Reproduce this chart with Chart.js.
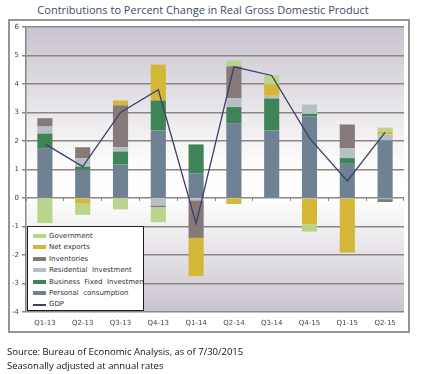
<!DOCTYPE html>
<html>
<head>
<meta charset="utf-8">
<script src="https://cdn.jsdelivr.net/npm/chart.js@4.4.1/dist/chart.umd.min.js"></script>
<style>
  html, body { margin: 0; padding: 0; background: #ffffff; }
  body { width: 422px; height: 374px; position: relative; overflow: hidden; }
  #title { position: absolute; left: 0; top: 2px; width: 406px; text-align: center;
    font-family: "Open Sans", sans-serif; font-size: 11px; color: #3b4a70; white-space: nowrap; }
  #frame { position: absolute; left: 8px; top: 19px; width: 402px; height: 314px; box-sizing: border-box;
    border: 2px solid #959595; }
  #chart { position: absolute; left: 0; top: 0; }
  #legend { position: absolute; left: 27px; top: 226px; width: 117px; height: 85px; box-sizing: border-box;
    border: 1.5px solid #1e1e1e; background: #ffffff; overflow: hidden;
    font-family: "DejaVu Sans", sans-serif; font-size: 7px; color: #333; }
  .item { position: absolute; left: 5px; height: 10px; white-space: nowrap; }
  .sw { position: absolute; left: 0; top: 3px; width: 13px; height: 4px; }
  .ln { position: absolute; left: 0; top: 5px; width: 13px; height: 1.3px; }
  .lt { position: absolute; left: 16px; top: 0; line-height: 10px; }
  .src { position: absolute; left: 7px; font-family: "Open Sans", sans-serif; font-size: 9.5px; color: #111; white-space: nowrap; }
</style>
</head>
<body>
<div id="title">Contributions to Percent Change in Real Gross Domestic Product</div>
<div id="frame"></div>
<canvas id="chart" width="422" height="374"></canvas>
<div id="legend"></div>
<div class="src" style="top:345px">Source: Bureau of Economic Analysis, as of 7/30/2015</div>
<div class="src" style="top:359px">Seasonally adjusted at annual rates</div>
<script>
// ---- data ----
const categories = ['Q1-13','Q2-13','Q3-13','Q4-13','Q1-14','Q2-14','Q3-14','Q4-15','Q1-15','Q2-15'];
const personalConsumption = [1.75, 0.99, 1.18, 2.37, 0.87, 2.62, 2.37, 2.86, 1.20, 2.02];
const businessFixedInvestment = [0.51, 0.11, 0.45, 1.05, 1.01, 0.57, 1.12, 0.09, 0.20, -0.06];
const residentialInvestment = [0.25, 0.30, 0.15, -0.26, -0.08, 0.31, 0.10, 0.33, 0.34, 0.21];
const inventories = [0.29, 0.38, 1.47, -0.06, -1.32, 1.12, 0.00, 0.00, 0.84, -0.08];
const netExports = [0.00, -0.20, 0.17, 1.26, -1.34, -0.21, 0.39, -0.93, -1.90, 0.10];
const government = [-0.88, -0.39, -0.40, -0.53, 0.00, 0.20, 0.32, -0.25, -0.03, 0.14];
const gdp = [1.9, 1.1, 3.0, 3.8, -0.9, 4.6, 4.3, 2.1, 0.6, 2.3];
const yTicks = [-4, -3, -2, -1, 0, 1, 2, 3, 4, 5, 6];

const colors = {
  pc: '#6e8293', bfi: '#3f8456', res: '#b6bec6', inv: '#857a77', nx: '#d4b736', gov: '#b9d48b', gdp: '#3d3f6c'
};

function barSet(label, data, color) {
  return { type: 'bar', label, data, backgroundColor: color, borderWidth: 0, stack: 'c', order: 1,
    categoryPercentage: 1.0, barPercentage: 0.4, xAxisID: 'x', yAxisID: 'y' };
}

const datasets = [
  barSet('Personal consumption', personalConsumption, colors.pc),
  barSet('Business Fixed Investment', businessFixedInvestment, colors.bfi),
  barSet('Residential Investment', residentialInvestment, colors.res),
  barSet('Inventories', inventories, colors.inv),
  barSet('Net exports', netExports, colors.nx),
  barSet('Government', government, colors.gov),
  { type: 'line', label: 'GDP', data: gdp, borderColor: colors.gdp, borderWidth: 1.3, pointRadius: 0,
    tension: 0, fill: false, stack: 'g', order: 0, xAxisID: 'x', yAxisID: 'y' }
];

const bgPlugin = {
  id: 'bg',
  beforeDraw(chart) {
    const { ctx, chartArea: a } = chart;
    const g = ctx.createLinearGradient(0, a.top, 0, a.bottom);
    g.addColorStop(0, '#c9c4cf');
    g.addColorStop(0.48, '#fdfcfb');
    g.addColorStop(0.6, '#ffffff');
    g.addColorStop(1, '#c8c3cd');
    ctx.save();
    ctx.fillStyle = g;
    ctx.fillRect(a.left, a.top, a.right - a.left, a.bottom - a.top);
    ctx.restore();
  }
};

new Chart(document.getElementById('chart'), {
  data: { labels: categories, datasets },
  options: {
    responsive: false, devicePixelRatio: 1, animation: false,
    layout: { padding: { left: 8, right: 18, top: 27, bottom: 46 } },
    plugins: { legend: { display: false }, tooltip: { enabled: false } },
    scales: {
      x: {
        stacked: true, offset: true,
        grid: { display: false, drawTicks: false, tickLength: 0 }, border: { display: false },
        ticks: { font: { family: 'DejaVu Sans', size: 7 }, color: '#444', padding: 7, maxRotation: 0, autoSkip: false },
        afterFit(s) { s.height = 16; }
      },
      x0: {
        type: 'category', position: { y: 0 }, offset: true,
        grid: { drawOnChartArea: false, drawTicks: true, tickLength: 3, color: '#888', lineWidth: 1, offset: true },
        border: { display: false },
        ticks: { display: false }
      },
      y: {
        stacked: true, min: -4, max: 6,
        afterBuildTicks(s) { s.ticks = yTicks.map(v => ({ value: v })); },
        grid: { color: '#8b8585', lineWidth: 1.5, tickLength: 4 },
        border: { color: '#8b8585', width: 1.5 },
        ticks: { font: { family: 'DejaVu Sans', size: 7 }, color: '#444', padding: 3 },
        afterFit(s) { s.width = 18; }
      }
    }
  },
  plugins: [bgPlugin]
});

// ---- HTML legend built from the dataset list ----
const legendOrder = [
  ['Government', colors.gov, false],
  ['Net exports', colors.nx, false],
  ['Inventories', colors.inv, false],
  ['Residential  Investment', colors.res, false],
  ['Business  Fixed  Investment', colors.bfi, false],
  ['Personal  consumption', colors.pc, false],
  ['GDP', colors.gdp, true]
];
const lg = document.getElementById('legend');
legendOrder.forEach((it, i) => {
  const d = document.createElement('div');
  d.className = 'item';
  d.style.top = (4 + i * 11.4) + 'px';
  const s = document.createElement('div');
  s.className = it[2] ? 'ln' : 'sw';
  s.style.background = it[1];
  const t = document.createElement('div');
  t.className = 'lt';
  t.style.whiteSpace = 'pre';
  t.textContent = it[0];
  d.appendChild(s); d.appendChild(t);
  lg.appendChild(d);
});
</script>
</body>
</html>
